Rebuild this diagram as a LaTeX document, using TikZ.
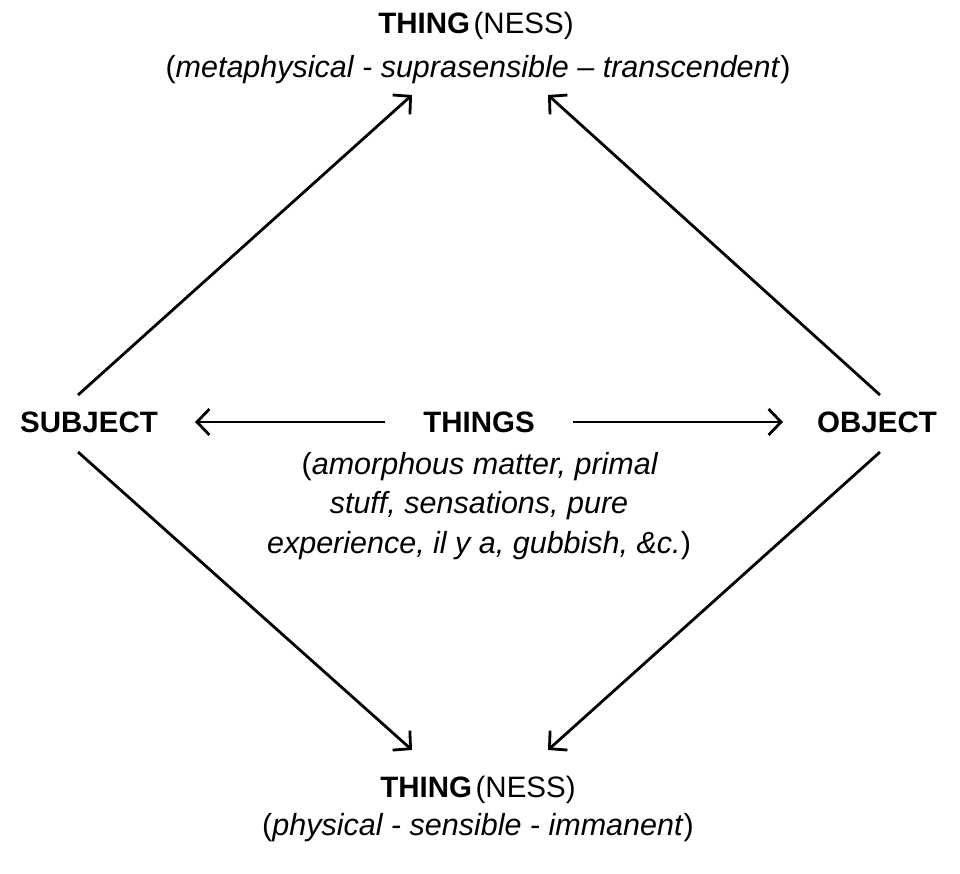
\documentclass[tikz,border=0pt]{standalone}
\usepackage{fontspec}
\setmainfont{Liberation Sans}
\usetikzlibrary{arrows.meta}
\begin{document}
\begin{tikzpicture}[x=1pt,y=-1pt,
  lbl/.style={inner sep=0pt,anchor=base,font=\fontsize{29.5}{34}\selectfont},
  ital/.style={inner sep=0pt,anchor=base,font=\fontsize{30.5}{36}\selectfont},
  bold/.style={lbl,font=\fontsize{29.5}{34}\selectfont\bfseries},
  arr/.style={line width=2.8pt,-{Straight Barb[length=12.5pt,width=26pt,line width=2.8pt]}}]
\useasboundingbox (0,0) rectangle (960,873);
\node[lbl] (top1) at (476,33) {\textbf{THING}\hspace{3.5pt}(NESS)};
\node[ital] (top2) at (478,77) {(\textit{metaphysical - suprasensible – transcendent})};
\node[bold] (subj) at (89,432) {SUBJECT};
\node[bold] (things) at (479,432) {THINGS};
\node[bold] (obj) at (877,432) {OBJECT};
\node[ital] (d1) at (480,474) {(\textit{amorphous matter, primal}};
\node[ital] (d2) at (479,513) {\textit{stuff, sensations, pure}};
\node[ital] (d3) at (479,553) {\textit{experience, il y a, gubbish, \&c.})};
\node[lbl] (bot1) at (478,797) {\textbf{THING}\hspace{3.5pt}(NESS)};
\node[ital] (bot2) at (478,835) {(\textit{physical - sensible - immanent})};
\coordinate (a1s) at (78,395);  \coordinate (a1e) at (412,95);
\coordinate (a2s) at (880,395); \coordinate (a2e) at (548,95);
\coordinate (a3s) at (78,452);  \coordinate (a3e) at (412,750);
\coordinate (a4s) at (880,452); \coordinate (a4e) at (548,750);
\coordinate (h1s) at (385,422); \coordinate (h1e) at (195,422);
\coordinate (h2s) at (573,422); \coordinate (h2e) at (783,422);
\draw[arr] (a1s) -- (a1e);
\draw[arr] (a2s) -- (a2e);
\draw[arr] (a3s) -- (a3e);
\draw[arr] (a4s) -- (a4e);
\draw[arr] (h1s) -- (h1e);
\draw[arr] (h2s) -- (h2e);
\end{tikzpicture}
\end{document}
